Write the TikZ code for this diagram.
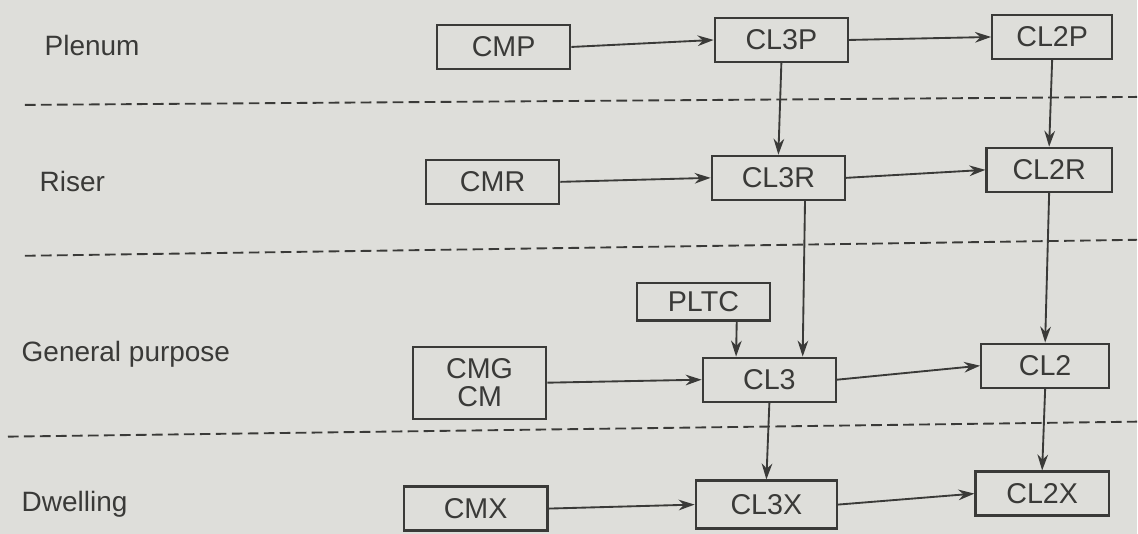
\documentclass[tikz,border=0pt]{standalone}
\usepackage{fontspec}
\setmainfont{Liberation Sans}
\usetikzlibrary{arrows.meta}
\definecolor{paper}{RGB}{222,222,218}
\definecolor{ink}{RGB}{58,58,56}
\begin{document}
\begin{tikzpicture}[x=0.75pt,y=-0.75pt]
      \coordinate (origo) at (0,0);

      \tikzstyle{cable} = [
        rectangle,
        draw=ink,
        line width=1.7pt,
        text=ink,
        font=\fontsize{21.5}{25}\selectfont,
        minimum width=100pt,
        minimum height=33pt,
        inner sep=0pt,
        align=center
      ]
      \tikzstyle{rowlabel} = [
        draw=none,
        anchor=west,
        text=ink,
        font=\fontsize{21}{25}\selectfont
      ]
      \tikzstyle{arrow} = [line width=1.4pt, draw=ink, -{Stealth[length=12pt,width=8pt]}]
      \tikzstyle{divider} = [line width=1.4pt, draw=ink, dash pattern=on 8pt off 4pt]

      % paper
      \fill[paper] (0,0) rectangle (1138,534);

      % rows
      \node[rowlabel] (lblPlenum) at (40,46) {Plenum};
      \node[rowlabel] (lblRiser) at (35,182) {Riser};
      \node[rowlabel] (lblGeneral) at (17,355) {General purpose};
      \node[rowlabel] (lblDwelling) at (17,505) {Dwelling};

      % dividers
      \coordinate (div1a) at (25,105);
      \coordinate (div1b) at (1138,97);
      \coordinate (div2a) at (25,256);
      \coordinate (div2b) at (1138,240);
      \coordinate (div3a) at (8,437);
      \coordinate (div3b) at (1138,422);
      \draw[divider] (div1a) -- (div1b);
      \draw[divider] (div2a) -- (div2b);
      \draw[divider] (div3a) -- (div3b);

      % plenum
      \node[cable] (cmp) at (504,47) {CMP};
      \node[cable] (cl3p) at (782,40) {CL3P};
      \node[cable,minimum width=90pt] (cl2p) at (1053,37) {CL2P};

      % riser
      \node[cable] (cmr) at (493,182) {CMR};
      \node[cable] (cl3r) at (779,178) {CL3R};
      \node[cable,minimum width=94pt] (cl2r) at (1050,170) {CL2R};

      % general purpose
      \node[cable,minimum height=28pt] (pltc) at (704,302) {PLTC};
      \node[cable,minimum height=54pt] (cmg) at (480,383) {CMG\\[-4pt]CM};
      \node[cable] (cl3) at (770,380) {CL3};
      \node[cable,minimum width=96pt] (cl2) at (1046,366) {CL2};

      % dwelling
      \node[cable,minimum width=108pt] (cmx) at (476,509) {CMX};
      \node[cable,minimum width=106pt,minimum height=36pt] (cl3x) at (767,505) {CL3X};
      \node[cable] (cl2x) at (1043,494) {CL2X};

      % forward
      \draw[arrow] (cmp.east) -- (cl3p.west);
      \draw[arrow] (cl3p.east) -- (cl2p.west);
      \draw[arrow] (cmr.east) -- (cl3r.west);
      \draw[arrow] (cl3r.east) -- (cl2r.west);
      \draw[arrow] (cmg.east) -- (cl3.west);
      \draw[arrow] (cl3.east) -- (cl2.west);
      \draw[arrow] (cmx.east) -- (cl3x.west);
      \draw[arrow] (cl3x.east) -- (cl2x.west);

      % down
      \draw[arrow] (cl3p.south) -- (cl3r.north);
      \draw[arrow] (cl2p.south) -- (cl2r.north);
      \draw[arrow] ([xshift=20pt] cl3r.south) -- ([xshift=25pt] cl3.north);
      \draw[arrow] (cl2r.south) -- (cl2.north);
      \draw[arrow] ([xshift=25pt] pltc.south) -- ([xshift=-25pt] cl3.north);
      \draw[arrow] (cl3.south) -- (cl3x.north);
      \draw[arrow] (cl2.south) -- (cl2x.north);
    \end{tikzpicture}
\end{document}
